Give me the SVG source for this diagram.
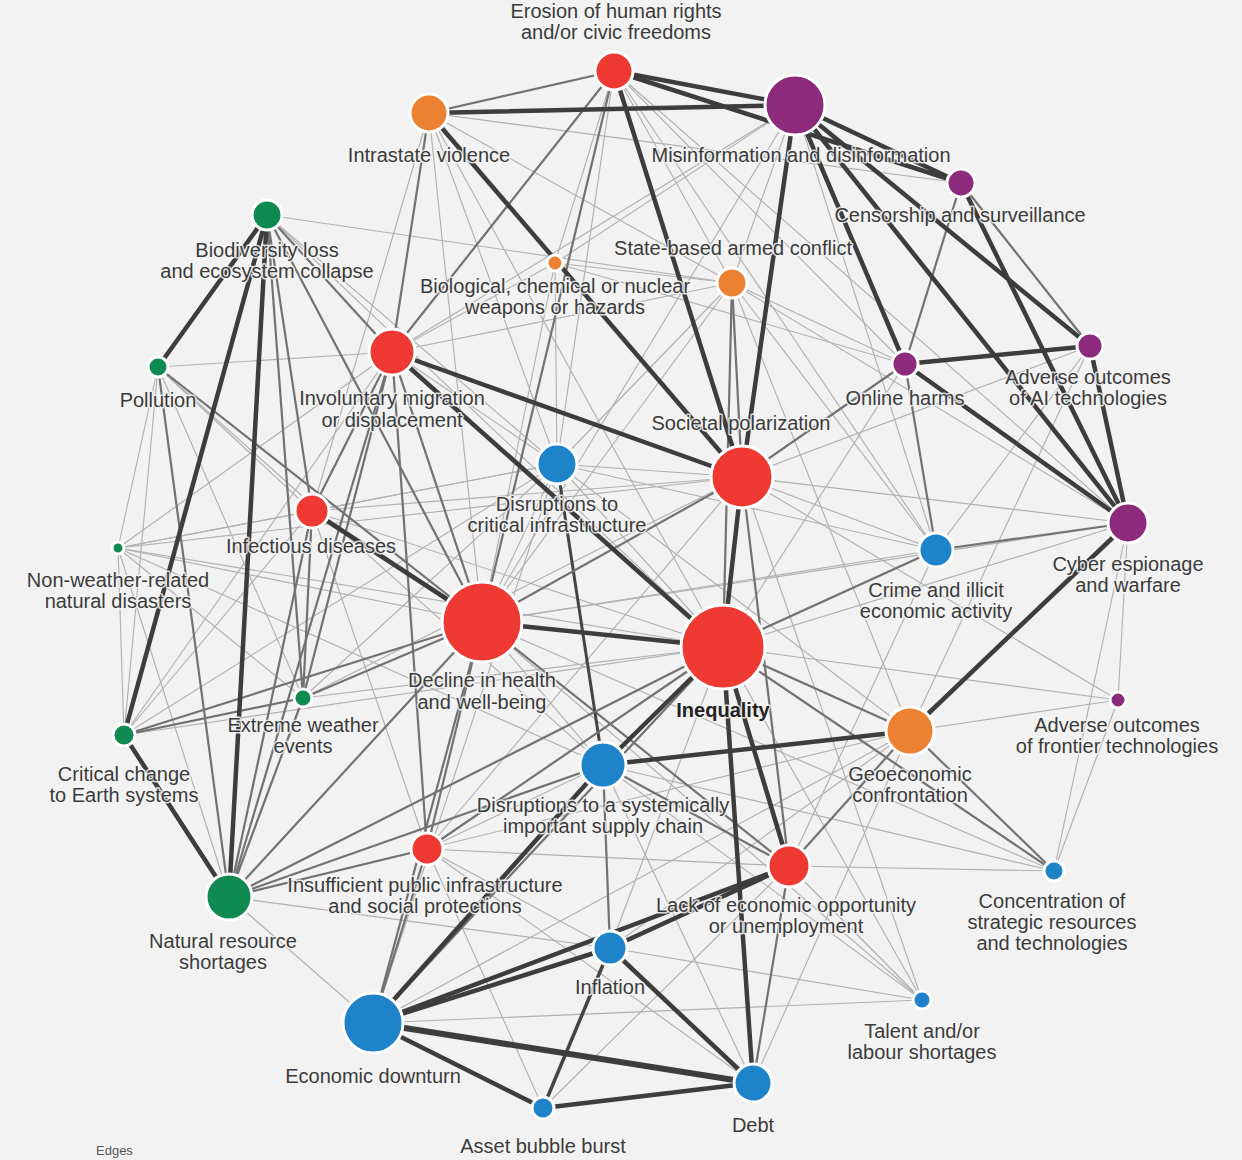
<svg xmlns="http://www.w3.org/2000/svg" width="1242" height="1160" viewBox="0 0 1242 1160">
<style>
.l{stroke:#b0b0b0;stroke-width:1.15;fill:none}
.m{stroke:#727272;stroke-width:2.2;fill:none}
.t{stroke:#3d3d3d;stroke-width:4.5;fill:none;stroke-linecap:round}
.tt{stroke:#3d3d3d;stroke-width:6;fill:none}
circle{stroke:#ffffff;stroke-width:3}
.red{fill:#ee3a33}.org{fill:#ec8131}.pur{fill:#8c2a7c}.grn{fill:#0f8a50}.blu{fill:#1f83c9}
text{font-family:"Liberation Sans",Arial,sans-serif;font-size:20px;fill:#3b3b3b;text-anchor:middle;stroke:#f4f4f4;stroke-width:3;stroke-opacity:0.85;paint-order:stroke;stroke-linejoin:round}
.b{font-weight:bold;fill:#222}
</style>
<rect width="1242" height="1160" fill="#f2f2f2"/>
<g id="edges">
<g class="l">
<line x1="614" y1="71" x2="905" y2="364"/><line x1="614" y1="71" x2="1128" y2="523"/><line x1="614" y1="71" x2="732" y2="283"/><line x1="614" y1="71" x2="936" y2="550"/><line x1="614" y1="71" x2="557" y2="464"/><line x1="614" y1="71" x2="555" y2="263"/>
<line x1="429" y1="113" x2="961" y2="183"/><line x1="429" y1="113" x2="723" y2="647"/><line x1="429" y1="113" x2="312" y2="511"/><line x1="429" y1="113" x2="557" y2="464"/><line x1="429" y1="113" x2="732" y2="283"/><line x1="429" y1="113" x2="482" y2="622"/>
<line x1="795" y1="105" x2="732" y2="283"/><line x1="795" y1="105" x2="936" y2="550"/><line x1="795" y1="105" x2="392" y2="352"/><line x1="795" y1="105" x2="555" y2="263"/><line x1="795" y1="105" x2="482" y2="622"/>
<line x1="267" y1="215" x2="732" y2="283"/><line x1="267" y1="215" x2="557" y2="464"/><line x1="267" y1="215" x2="723" y2="647"/>
<line x1="158" y1="367" x2="392" y2="352"/><line x1="158" y1="367" x2="312" y2="511"/><line x1="158" y1="367" x2="118" y2="548"/><line x1="158" y1="367" x2="124" y2="735"/><line x1="158" y1="367" x2="303" y2="698"/><line x1="158" y1="367" x2="603" y2="765"/>
<line x1="118" y1="548" x2="124" y2="735"/><line x1="118" y1="548" x2="229" y2="897"/><line x1="118" y1="548" x2="482" y2="622"/><line x1="118" y1="548" x2="723" y2="647"/><line x1="118" y1="548" x2="312" y2="511"/><line x1="118" y1="548" x2="392" y2="352"/><line x1="118" y1="548" x2="557" y2="464"/><line x1="118" y1="548" x2="303" y2="698"/><line x1="118" y1="548" x2="603" y2="765"/><line x1="118" y1="548" x2="742" y2="477"/>
<line x1="124" y1="735" x2="723" y2="647"/><line x1="124" y1="735" x2="312" y2="511"/><line x1="124" y1="735" x2="392" y2="352"/><line x1="124" y1="735" x2="557" y2="464"/>
<line x1="303" y1="698" x2="723" y2="647"/><line x1="303" y1="698" x2="557" y2="464"/><line x1="303" y1="698" x2="742" y2="477"/>
<line x1="312" y1="511" x2="723" y2="647"/><line x1="312" y1="511" x2="742" y2="477"/><line x1="312" y1="511" x2="427" y2="849"/><line x1="312" y1="511" x2="557" y2="464"/>
<line x1="392" y1="352" x2="732" y2="283"/><line x1="392" y1="352" x2="557" y2="464"/><line x1="392" y1="352" x2="555" y2="263"/>
<line x1="732" y1="283" x2="1128" y2="523"/><line x1="732" y1="283" x2="910" y2="731"/><line x1="732" y1="283" x2="482" y2="622"/><line x1="732" y1="283" x2="905" y2="364"/><line x1="732" y1="283" x2="936" y2="550"/><line x1="732" y1="283" x2="555" y2="263"/><line x1="732" y1="283" x2="557" y2="464"/>
<line x1="905" y1="364" x2="723" y2="647"/>
<line x1="1090" y1="346" x2="936" y2="550"/><line x1="1090" y1="346" x2="742" y2="477"/><line x1="1090" y1="346" x2="910" y2="731"/>
<line x1="1128" y1="523" x2="1118" y2="700"/><line x1="1128" y1="523" x2="742" y2="477"/><line x1="1128" y1="523" x2="723" y2="647"/><line x1="1128" y1="523" x2="1054" y2="871"/><line x1="1128" y1="523" x2="482" y2="622"/>
<line x1="936" y1="550" x2="742" y2="477"/><line x1="936" y1="550" x2="482" y2="622"/><line x1="936" y1="550" x2="789" y2="866"/><line x1="936" y1="550" x2="557" y2="464"/>
<line x1="910" y1="731" x2="1118" y2="700"/><line x1="910" y1="731" x2="610" y2="948"/><line x1="910" y1="731" x2="557" y2="464"/><line x1="910" y1="731" x2="373" y2="1023"/>
<line x1="1118" y1="700" x2="723" y2="647"/><line x1="1118" y1="700" x2="1054" y2="871"/><line x1="1118" y1="700" x2="742" y2="477"/>
<line x1="1054" y1="871" x2="603" y2="765"/><line x1="1054" y1="871" x2="789" y2="866"/><line x1="1054" y1="871" x2="482" y2="622"/>
<line x1="922" y1="1000" x2="789" y2="866"/><line x1="922" y1="1000" x2="723" y2="647"/><line x1="922" y1="1000" x2="610" y2="948"/><line x1="922" y1="1000" x2="373" y2="1023"/><line x1="922" y1="1000" x2="603" y2="765"/><line x1="922" y1="1000" x2="482" y2="622"/><line x1="922" y1="1000" x2="742" y2="477"/>
<line x1="789" y1="866" x2="427" y2="849"/>
<line x1="753" y1="1083" x2="603" y2="765"/><line x1="753" y1="1083" x2="910" y2="731"/><line x1="753" y1="1083" x2="427" y2="849"/>
<line x1="603" y1="765" x2="482" y2="622"/><line x1="603" y1="765" x2="427" y2="849"/>
<line x1="557" y1="464" x2="742" y2="477"/><line x1="557" y1="464" x2="482" y2="622"/><line x1="557" y1="464" x2="723" y2="647"/><line x1="557" y1="464" x2="373" y2="1023"/>
<line x1="427" y1="849" x2="610" y2="948"/><line x1="427" y1="849" x2="742" y2="477"/>
<line x1="610" y1="948" x2="723" y2="647"/><line x1="610" y1="948" x2="229" y2="897"/>
<line x1="543" y1="1108" x2="427" y2="849"/><line x1="543" y1="1108" x2="789" y2="866"/>
<line x1="229" y1="897" x2="910" y2="731"/><line x1="229" y1="897" x2="373" y2="1023"/>
<line x1="555" y1="263" x2="557" y2="464"/><line x1="555" y1="263" x2="482" y2="622"/><line x1="555" y1="263" x2="905" y2="364"/>
</g>
<g class="m">
<line x1="614" y1="71" x2="429" y2="113"/><line x1="614" y1="71" x2="392" y2="352"/><line x1="614" y1="71" x2="482" y2="622"/>
<line x1="429" y1="113" x2="392" y2="352"/>
<line x1="267" y1="215" x2="303" y2="698"/><line x1="267" y1="215" x2="482" y2="622"/><line x1="267" y1="215" x2="392" y2="352"/><line x1="267" y1="215" x2="312" y2="511"/>
<line x1="158" y1="367" x2="482" y2="622"/><line x1="158" y1="367" x2="229" y2="897"/>
<line x1="124" y1="735" x2="303" y2="698"/><line x1="124" y1="735" x2="482" y2="622"/>
<line x1="303" y1="698" x2="312" y2="511"/><line x1="303" y1="698" x2="229" y2="897"/><line x1="303" y1="698" x2="482" y2="622"/><line x1="303" y1="698" x2="392" y2="352"/>
<line x1="312" y1="511" x2="392" y2="352"/><line x1="312" y1="511" x2="229" y2="897"/>
<line x1="392" y1="352" x2="482" y2="622"/><line x1="392" y1="352" x2="229" y2="897"/><line x1="392" y1="352" x2="427" y2="849"/>
<line x1="732" y1="283" x2="723" y2="647"/><line x1="732" y1="283" x2="742" y2="477"/>
<line x1="905" y1="364" x2="961" y2="183"/><line x1="905" y1="364" x2="936" y2="550"/><line x1="905" y1="364" x2="742" y2="477"/>
<line x1="1090" y1="346" x2="961" y2="183"/>
<line x1="1128" y1="523" x2="936" y2="550"/>
<line x1="910" y1="731" x2="1054" y2="871"/><line x1="910" y1="731" x2="789" y2="866"/><line x1="910" y1="731" x2="723" y2="647"/>
<line x1="1054" y1="871" x2="723" y2="647"/>
<line x1="789" y1="866" x2="753" y2="1083"/><line x1="789" y1="866" x2="603" y2="765"/><line x1="789" y1="866" x2="482" y2="622"/><line x1="789" y1="866" x2="742" y2="477"/>
<line x1="603" y1="765" x2="557" y2="464" style="stroke:#444;stroke-width:3"/><line x1="603" y1="765" x2="610" y2="948"/>
<line x1="482" y1="622" x2="427" y2="849"/><line x1="482" y1="622" x2="373" y2="1023"/><line x1="482" y1="622" x2="742" y2="477"/><line x1="482" y1="622" x2="229" y2="897"/>
<line x1="427" y1="849" x2="229" y2="897"/><line x1="427" y1="849" x2="723" y2="647"/><line x1="427" y1="849" x2="373" y2="1023"/>
<line x1="543" y1="1108" x2="610" y2="948" style="stroke:#444;stroke-width:3.5"/>
<line x1="229" y1="897" x2="603" y2="765"/><line x1="229" y1="897" x2="723" y2="647"/>
<line x1="723" y1="647" x2="373" y2="1023"/><line x1="723" y1="647" x2="936" y2="550"/>
</g>
<g class="t">
<line x1="614" y1="71" x2="795" y2="105"/><line x1="614" y1="71" x2="961" y2="183"/><line x1="614" y1="71" x2="742" y2="477"/>
<line x1="429" y1="113" x2="795" y2="105"/><line x1="429" y1="113" x2="742" y2="477"/>
<line x1="795" y1="105" x2="961" y2="183"/><line x1="795" y1="105" x2="905" y2="364"/><line x1="795" y1="105" x2="1090" y2="346"/><line x1="795" y1="105" x2="1128" y2="523"/><line x1="795" y1="105" x2="742" y2="477"/>
<line x1="961" y1="183" x2="1128" y2="523"/>
<line x1="905" y1="364" x2="1090" y2="346"/><line x1="905" y1="364" x2="1128" y2="523"/>
<line x1="1090" y1="346" x2="1128" y2="523"/>
<line x1="267" y1="215" x2="158" y2="367"/><line x1="267" y1="215" x2="124" y2="735"/><line x1="267" y1="215" x2="229" y2="897"/>
<line x1="124" y1="735" x2="229" y2="897"/>
<line x1="392" y1="352" x2="742" y2="477"/><line x1="392" y1="352" x2="723" y2="647"/>
<line x1="312" y1="511" x2="482" y2="622"/>
<line x1="742" y1="477" x2="723" y2="647"/>
<line x1="482" y1="622" x2="723" y2="647"/>
<line x1="723" y1="647" x2="789" y2="866"/><line x1="723" y1="647" x2="753" y2="1083"/><line x1="723" y1="647" x2="603" y2="765"/>
<line x1="603" y1="765" x2="910" y2="731"/><line x1="603" y1="765" x2="373" y2="1023"/>
<line x1="910" y1="731" x2="1128" y2="523"/>
<line x1="373" y1="1023" x2="610" y2="948"/><line x1="373" y1="1023" x2="789" y2="866"/><line x1="373" y1="1023" x2="543" y2="1108"/>
<line x1="543" y1="1108" x2="753" y2="1083"/>
<line x1="610" y1="948" x2="753" y2="1083"/><line x1="610" y1="948" x2="789" y2="866"/>
</g>
<line class="tt" x1="373" y1="1023" x2="753" y2="1083"/>
</g>
<g id="nodes">
<g id="n-erosion"><circle class="red" cx="614" cy="71" r="19"/><text x="616" y="18">Erosion of human rights</text><text x="616" y="39">and/or civic freedoms</text></g>
<g id="n-intrastate"><circle class="org" cx="429" cy="113" r="19"/><text x="429" y="162">Intrastate violence</text></g>
<g id="n-misinfo"><circle class="pur" cx="795" cy="105" r="30"/><text x="801" y="162">Misinformation and disinformation</text></g>
<g id="n-censorship"><circle class="pur" cx="961" cy="183" r="14"/><text x="960" y="222">Censorship and surveillance</text></g>
<g id="n-biodiversity"><circle class="grn" cx="267" cy="215" r="15"/><text x="267" y="257">Biodiversity loss</text><text x="267" y="278">and ecosystem collapse</text></g>
<g id="n-statebased"><circle class="org" cx="732" cy="283" r="15"/><text x="733" y="255">State-based armed conflict</text></g>
<g id="n-biological"><circle class="org" cx="555" cy="263" r="8"/><text x="555" y="293">Biological, chemical or nuclear</text><text x="555" y="314">weapons or hazards</text></g>
<g id="n-pollution"><circle class="grn" cx="158" cy="367" r="10"/><text x="158" y="407">Pollution</text></g>
<g id="n-migration"><circle class="red" cx="392" cy="352" r="23"/><text x="392" y="405">Involuntary migration</text><text x="392" y="427">or displacement</text></g>
<g id="n-onlineharms"><circle class="pur" cx="905" cy="364" r="13"/><text x="905" y="405">Online harms</text></g>
<g id="n-ai"><circle class="pur" cx="1090" cy="346" r="13"/><text x="1088" y="384">Adverse outcomes</text><text x="1088" y="405">of AI technologies</text></g>
<g id="n-polarization"><circle class="red" cx="742" cy="477" r="31"/><text x="741" y="430">Societal polarization</text></g>
<g id="n-critinfra"><circle class="blu" cx="557" cy="464" r="20"/><text x="557" y="511">Disruptions to</text><text x="557" y="532">critical infrastructure</text></g>
<g id="n-infectious"><circle class="red" cx="312" cy="511" r="17"/><text x="311" y="553">Infectious diseases</text></g>
<g id="n-nonweather"><circle class="grn" cx="118" cy="548" r="6"/><text x="118" y="587">Non-weather-related</text><text x="118" y="608">natural disasters</text></g>
<g id="n-cyber"><circle class="pur" cx="1128" cy="523" r="20"/><text x="1128" y="571">Cyber espionage</text><text x="1128" y="592">and warfare</text></g>
<g id="n-crime"><circle class="blu" cx="936" cy="550" r="17"/><text x="936" y="597">Crime and illicit</text><text x="936" y="618">economic activity</text></g>
<g id="n-health"><circle class="red" cx="482" cy="622" r="40"/><text x="482" y="687">Decline in health</text><text x="482" y="709">and well-being</text></g>
<g id="n-inequality"><circle class="red" cx="723" cy="647" r="42"/><text class="b" x="723" y="717">Inequality</text></g>
<g id="n-extreme"><circle class="grn" cx="303" cy="698" r="9"/><text x="303" y="732">Extreme weather</text><text x="303" y="753">events</text></g>
<g id="n-frontier"><circle class="pur" cx="1118" cy="700" r="8"/><text x="1117" y="732">Adverse outcomes</text><text x="1117" y="753">of frontier technologies</text></g>
<g id="n-earth"><circle class="grn" cx="124" cy="735" r="11"/><text x="124" y="781">Critical change</text><text x="124" y="802">to Earth systems</text></g>
<g id="n-geoeconomic"><circle class="org" cx="910" cy="731" r="24"/><text x="910" y="781">Geoeconomic</text><text x="910" y="802">confrontation</text></g>
<g id="n-supply"><circle class="blu" cx="603" cy="765" r="23"/><text x="603" y="812">Disruptions to a systemically</text><text x="603" y="833">important supply chain</text></g>
<g id="n-publicinfra"><circle class="red" cx="427" cy="849" r="16"/><text x="425" y="892">Insufficient public infrastructure</text><text x="425" y="913">and social protections</text></g>
<g id="n-lackecon"><circle class="red" cx="789" cy="866" r="21"/><text x="786" y="912">Lack of economic opportunity</text><text x="786" y="933">or unemployment</text></g>
<g id="n-concentration"><circle class="blu" cx="1054" cy="871" r="10"/><text x="1052" y="908">Concentration of</text><text x="1052" y="929">strategic resources</text><text x="1052" y="950">and technologies</text></g>
<g id="n-natural"><circle class="grn" cx="229" cy="897" r="23"/><text x="223" y="948">Natural resource</text><text x="223" y="969">shortages</text></g>
<g id="n-inflation"><circle class="blu" cx="610" cy="948" r="17"/><text x="610" y="994">Inflation</text></g>
<g id="n-talent"><circle class="blu" cx="922" cy="1000" r="9"/><text x="922" y="1038">Talent and/or</text><text x="922" y="1059">labour shortages</text></g>
<g id="n-downturn"><circle class="blu" cx="373" cy="1023" r="30"/><text x="373" y="1083">Economic downturn</text></g>
<g id="n-debt"><circle class="blu" cx="753" cy="1083" r="19"/><text x="753" y="1132">Debt</text></g>
<g id="n-asset"><circle class="blu" cx="543" cy="1108" r="11"/><text x="543" y="1153">Asset bubble burst</text></g>
</g>
<text x="96" y="1155" style="text-anchor:start;font-size:13px;fill:#555">Edges</text>
</svg>
